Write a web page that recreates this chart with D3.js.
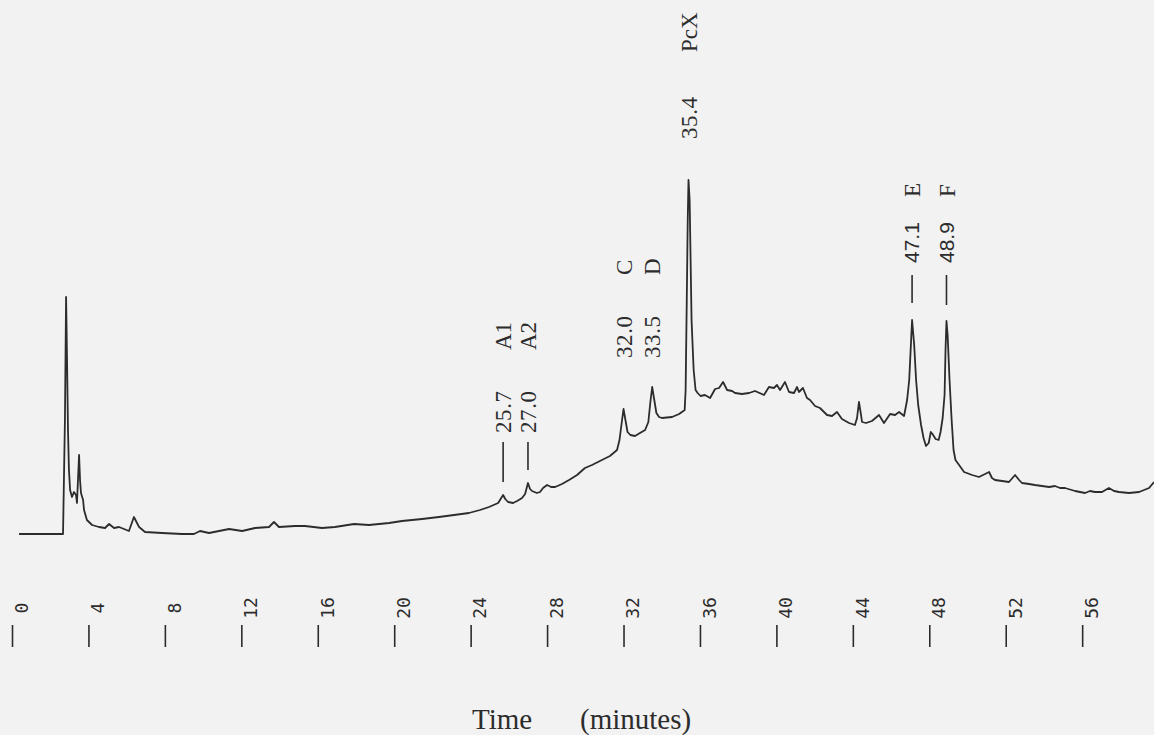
<!DOCTYPE html>
<html>
<head>
<meta charset="utf-8">
<script src="https://cdn.jsdelivr.net/npm/d3@7"></script>
<style>
  html, body { margin: 0; padding: 0; background: #f2f2f2; }
  svg { display: block; }
</style>
</head>
<body>
<svg id="chart" width="1154" height="735"></svg>
<script>
// Time axis ticks (minutes)
const timeTicks = [0, 4, 8, 12, 16, 20, 24, 28, 32, 36, 40, 44, 48, 52, 56];

// Chromatogram trace: retention time (min) and detector response (arbitrary units)
const retentionTime = [
  0.37, 2.62, 2.67, 2.77, 2.83, 2.88, 2.93, 2.98, 3.04, 3.14, 3.24, 3.35, 3.40, 3.51, 3.56, 3.61,
  3.72, 3.77, 3.92, 4.19, 4.55, 4.87, 5.08, 5.34, 5.60, 6.12, 6.38, 6.65, 6.96, 7.85, 8.90, 9.52,
  9.84, 10.31, 11.36, 12.04, 12.72, 13.45, 13.71, 13.97, 14.81, 15.33, 16.22, 16.90, 17.90, 18.68,
  19.73, 20.41, 21.46, 22.34, 23.13, 23.91, 24.49, 24.96, 25.44, 25.60, 25.70, 25.81, 25.96, 26.22,
  26.43, 26.69, 26.85, 27.00, 27.11, 27.21, 27.47, 27.63, 27.79, 28.00, 28.21, 28.42, 28.78, 29.15,
  29.57, 29.98, 30.35, 30.87, 31.29, 31.66, 31.79, 31.89, 32.00, 32.10, 32.21, 32.36, 32.60, 32.86,
  33.13, 33.30, 33.40, 33.50, 33.61, 33.72, 33.86, 34.01, 34.54, 34.91, 35.20, 35.25, 35.31, 35.36,
  35.40, 35.46, 35.51, 35.56, 35.67, 35.77, 35.88, 36.03, 36.26, 36.53, 36.79, 37.00, 37.21, 37.42,
  37.68, 37.84, 38.20, 38.57, 38.88, 39.35, 39.61, 39.87, 40.03, 40.19, 40.45, 40.66, 40.92, 41.08,
  41.18, 41.39, 41.60, 41.76, 42.02, 42.28, 42.65, 42.91, 43.17, 43.43, 43.80, 44.11, 44.22, 44.32,
  44.43, 44.48, 44.69, 45.00, 45.37, 45.63, 45.95, 46.21, 46.42, 46.68, 46.84, 46.95, 47.05, 47.10,
  47.21, 47.31, 47.42, 47.57, 47.70, 47.83, 47.97, 48.08, 48.17, 48.33, 48.49, 48.59, 48.70, 48.80,
  48.85, 48.90, 48.96, 49.06, 49.17, 49.27, 49.37, 49.56, 49.82, 50.24, 50.60, 50.92, 51.13, 51.28,
  51.44, 51.81, 52.17, 52.49, 52.70, 52.85, 53.22, 53.53, 53.90, 54.27, 54.58, 54.84, 55.10, 55.63,
  56.15, 56.41, 56.67, 57.04, 57.40, 57.67, 57.93, 58.45, 58.98, 59.50, 59.76
];
const detectorSignal = [
  0, 0, 0, 114, 237, 174, 104, 64, 44, 37, 42, 39, 31, 79, 54, 41,
  34, 24, 14, 9, 7, 6, 10, 6, 7, 3, 17, 7, 2, 1, 0, 0,
  3, 1, 5, 3, 6, 7, 12, 7, 8, 8, 6, 7, 10, 9,
  11, 13, 15, 17, 19, 21, 24, 27, 31, 36, 39, 35, 32, 31,
  33, 36, 40, 51, 45, 43, 41, 42, 46, 49, 47, 47, 50, 54,
  59, 66, 69, 74, 78, 84, 94, 109, 125, 114, 102, 99, 98, 101,
  104, 112, 131, 147, 134, 121, 117, 116, 117, 120, 124, 144, 234, 314,
  354, 334, 274, 214, 164, 144, 141, 138, 139, 136, 145, 146, 152, 144,
  143, 141, 140, 141, 143, 139, 147, 146, 149, 144, 152, 142, 141, 147,
  142, 146, 136, 134, 128, 126, 119, 118, 122, 115, 111, 109, 116, 132,
  119, 112, 111, 113, 119, 111, 120, 119, 122, 118, 134, 154, 194, 214,
  189, 154, 129, 109, 96, 88, 91, 102, 100, 95, 94, 102, 116, 139,
  184, 213, 199, 154, 114, 84, 74, 69, 62, 59, 57, 60, 62, 56,
  54, 53, 52, 59, 54, 51, 50, 49, 48, 47, 48, 46, 46, 43,
  41, 43, 42, 42, 46, 43, 42, 41, 42, 46, 52
];

// Identified peaks: retention time (min) and compound name
const peakTimes = [25.7, 27.0, 32.0, 33.5, 35.4, 47.1, 48.9];
const peakNames = ["A1", "A2", "C", "D", "PcX", "E", "F"];

// Placement of each peak annotation (screen y of text bottoms, leader dash span, number face)
const labelLayout = [
  { numBottom: 433, nameBottom: 350, dash: [442, 482], sans: false },
  { numBottom: 433, nameBottom: 350, dash: [442, 470], sans: false },
  { numBottom: 358, nameBottom: 275, dash: null, sans: false },
  { numBottom: 358, nameBottom: 275, dash: null, sans: false },
  { numBottom: 139, nameBottom: 52,  dash: null, sans: false },
  { numBottom: 263, nameBottom: 197, dash: [275, 303], sans: true },
  { numBottom: 263, nameBottom: 197, dash: [275, 305], sans: true }
];

const ink = "#2c2c2c";
const serif = "'Liberation Serif', 'Times New Roman', serif";
const sans = "'Liberation Sans', Arial, sans-serif";
const mono = "'DejaVu Sans Mono', monospace";

const svg = d3.select("#chart");
svg.append("rect").attr("width", 1154).attr("height", 735).attr("fill", "#f2f2f2");

const x = d3.scaleLinear().domain([0, 60]).range([12, 12 + 60 * 19.11]);
const y = d3.scaleLinear().domain([0, 360]).range([534, 174]);

const plot = svg.append("g");

// trace
const points = retentionTime.map((t, i) => [t, detectorSignal[i]]);
plot.append("path")
  .datum(points)
  .attr("fill", "none")
  .attr("stroke", ink)
  .attr("stroke-width", 1.8)
  .attr("stroke-linejoin", "round")
  .attr("d", d3.line().x(d => x(d[0])).y(d => y(d[1])));

// time axis: short vertical ticks with upright-rotated labels
const axis = d3.axisBottom(x).tickValues(timeTicks).tickSize(22).tickFormat(d3.format("d"));
const axisG = plot.append("g").attr("transform", "translate(0,625)").call(axis);
axisG.select(".domain").remove();
axisG.selectAll(".tick line").attr("stroke", ink).attr("stroke-width", 1.6);
axisG.selectAll(".tick text")
  .attr("transform", "rotate(-90)")
  .attr("x", 17)
  .attr("y", 9)
  .attr("dy", "0.35em")
  .attr("text-anchor", "middle")
  .attr("fill", ink)
  .style("font-family", mono)
  .style("font-size", "18px");

// peak annotations
const ann = plot.append("g").selectAll("g")
  .data(peakTimes.map((t, i) => ({ t, name: peakNames[i], lay: labelLayout[i] })))
  .join("g");

ann.filter(d => d.lay.dash)
  .append("line")
  .attr("x1", d => x(d.t)).attr("x2", d => x(d.t))
  .attr("y1", d => d.lay.dash[0]).attr("y2", d => d.lay.dash[1])
  .attr("stroke", ink).attr("stroke-width", 1.6);

ann.append("text")
  .attr("transform", d => `translate(${x(d.t)},${d.lay.numBottom}) rotate(-90)`)
  .attr("dy", "0.35em")
  .attr("fill", ink)
  .style("font-family", d => d.lay.sans ? sans : serif)
  .style("font-size", d => d.lay.sans ? "21px" : "23px")
  .style("letter-spacing", d => d.lay.sans ? "0px" : "0.6px")
  .text(d => d.t.toFixed(1));

ann.append("text")
  .attr("transform", d => `translate(${x(d.t)},${d.lay.nameBottom}) rotate(-90)`)
  .attr("dy", "0.35em")
  .attr("fill", ink)
  .style("font-family", serif)
  .style("font-size", "23px")
  .text(d => d.name);

// axis title
const title = plot.append("text")
  .attr("y", 729)
  .attr("fill", ink)
  .style("font-family", serif)
  .style("font-size", "29px");
title.append("tspan").attr("x", 472).text("Time");
title.append("tspan").attr("x", 580).text("(minutes)");
</script>
</body>
</html>
